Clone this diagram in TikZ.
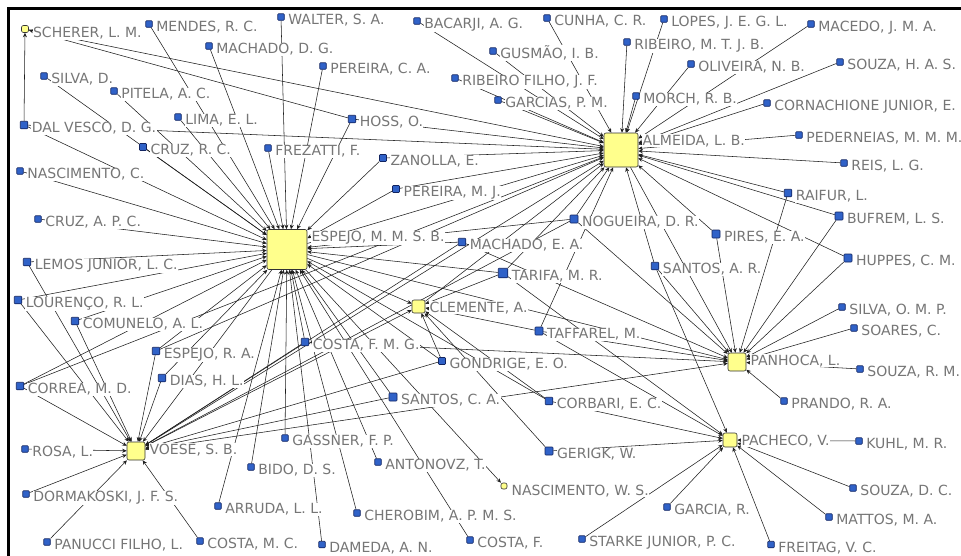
\documentclass[tikz,border=0pt]{standalone}
\usepackage{fontspec}
\setmainfont{DejaVu Sans}
\usetikzlibrary{arrows.meta,calc}
\definecolor{lblgray}{RGB}{118,118,118}
\definecolor{nodeblue}{RGB}{48,98,200}
\definecolor{nodeblueline}{RGB}{18,36,96}
\definecolor{hubyellow}{RGB}{255,255,140}
\definecolor{edgecol}{RGB}{30,30,30}
\pgfdeclarelayer{bglayer}
\pgfdeclarelayer{edgelayer}
\pgfsetlayers{bglayer,edgelayer,main}
\tikzset{
  bsq/.style={rectangle, fill=nodeblue, draw=nodeblueline, line width=0.6pt, inner sep=0pt, rounded corners=0.8pt},
  hsq/.style={rectangle, fill=hubyellow, draw=black!80, line width=0.6pt, inner sep=0pt, rounded corners=2pt},
  lbl/.style={anchor=base west, fill=white, inner sep=0.4pt, text=lblgray, font=\fontsize{14}{16}\selectfont},
  edge/.style={draw=edgecol, line width=0.55pt, -{Stealth[length=4.5pt,width=4pt]}}
}
\newcommand\bluenode[5][6.5]{%
  \node[bsq, minimum size=#1pt] (#2) at (#3,#4) {};
  \node[lbl] (#2-l) at ({#3+#1/2+3.5},{#4+7.5}) {#5};}
\newcommand\hubnode[5]{%
  \node[hsq, minimum size=#4pt] (#1) at (#2,#3) {};
  \node[lbl] (#1-l) at ({#2+#4/2+4},{#3-#4/2+12}) {#5};}
\begin{document}
\begin{tikzpicture}[x=1pt,y=-1pt]
\useasboundingbox (0,0) rectangle (961,555);
\clip (0,0) rectangle (961,555);
\begin{pgfonlayer}{bglayer}
\fill[white] (0,0) rectangle (961,555);
\end{pgfonlayer}
% hubs
\hubnode{espejo}{287}{249.5}{40}{ESPEJO, M. M. S. B.}
\hubnode{almeida}{621}{150}{34}{ALMEIDA, L. B.}
\hubnode{clemente}{418.5}{306.5}{13}{CLEMENTE, A.}
\hubnode{panhoca}{737}{362}{18}{PANHOCA, L.}
\hubnode{pacheco}{730}{440}{14}{PACHECO, V.}
\hubnode{voese}{136}{451}{18}{VOESE, S. B.}
\hubnode{scherer}{25}{29}{7}{SCHERER, L. M.}
\hubnode{nascws}{504}{486}{6}{NASCIMENTO, W. S.}
% blue nodes
\bluenode{mendes}{149}{24}{MENDES, R. C.}
\bluenode{walter}{281}{17}{WALTER, S. A.}
\bluenode{machdg}{209}{46}{MACHADO, D. G.}
\bluenode{silvad}{44}{76}{SILVA, D.}
\bluenode{pitela}{114}{91}{PITELA, A. C.}
\bluenode[7.5]{dalvesco}{24}{125}{DAL VESCO, D. G.}
\bluenode{lima}{178}{117}{LIMA, E. L.}
\bluenode[7]{cruzrc}{143}{147}{CRUZ, R. C.}
\bluenode{frezatti}{268}{148}{FREZATTI, F.}
\bluenode{nascc}{20}{171}{NASCIMENTO, C.}
\bluenode{pereiraca}{323}{66}{PEREIRA, C. A.}
\bluenode{bacarji}{417}{21}{BACARJI, A. G.}
\bluenode{cunha}{547}{18}{CUNHA, C. R.}
\bluenode{gusmao}{493}{51}{GUSMÃO, I. B.}
\bluenode{ribfilho}{455}{78}{RIBEIRO FILHO, J. F.}
\bluenode{garcias}{498}{100}{GARCIAS, P. M.}
\bluenode[7.5]{hoss}{352}{119}{HOSS, O.}
\bluenode[7]{zanolla}{383}{158}{ZANOLLA, E.}
\bluenode{ribmtjb}{627}{42}{RIBEIRO, M. T. J. B.}
\bluenode[7]{pereiramj}{396}{189}{PEREIRA, M. J.}
\bluenode{lopes}{664}{19}{LOPES, J. E. G. L.}
\bluenode{macedo}{811}{24}{MACEDO, J. M. A.}
\bluenode{oliveira}{691}{64}{OLIVEIRA, N. B.}
\bluenode{souzahas}{840}{62}{SOUZA, H. A. S.}
\bluenode{morch}{636}{96}{MORCH, R. B.}
\bluenode{cornach}{767}{103}{CORNACHIONE JUNIOR, E.}
\bluenode{pedern}{799}{135}{PEDERNEIAS, M. M. M.}
\bluenode{reis}{844}{163}{REIS, L. G.}
\bluenode{cruzapc}{38}{219}{CRUZ, A. P. C.}
\bluenode[7.5]{lemos}{27}{262}{LEMOS JUNIOR, L. C.}
\bluenode[7.5]{lourenco}{18}{300}{LOURENÇO, R. L.}
\bluenode[7.5]{comunelo}{75}{321}{COMUNELO, A. L.}
\bluenode[7.5]{espejora}{156}{351}{ESPEJO, R. A.}
\bluenode[7.5]{costafmg}{305}{342}{COSTA, F. M. G.}
\bluenode[8]{nogueira}{574}{219}{NOGUEIRA, D. R.}
\bluenode[7.5]{machea}{462}{242}{MACHADO, E. A.}
\bluenode[9.5]{tarifa}{503}{273}{TARIFA, M. R.}
\bluenode[8]{taffarel}{539}{331}{TAFFAREL, M.}
\bluenode[7]{gondrige}{442}{361}{GONDRIGE, E. O.}
\bluenode[7.5]{raifur}{788}{193}{RAIFUR, L.}
\bluenode[8]{bufrem}{839}{216}{BUFREM, L. S.}
\bluenode[8]{pires}{716}{234}{PIRES, E. A.}
\bluenode[8]{huppes}{848}{258}{HUPPES, C. M.}
\bluenode[7.5]{santosar}{655}{266}{SANTOS, A. R.}
\bluenode{silvaomp}{842}{307}{SILVA, O. M. P.}
\bluenode{soares}{854}{328}{SOARES, C.}
\bluenode{souzarm}{860}{369}{SOUZA, R. M.}
\bluenode[7.5]{correa}{20}{386}{CORREA, M. D.}
\bluenode[7.5]{dias}{162}{378}{DIAS, H. L.}
\bluenode{rosa}{25}{449}{ROSA, L.}
\bluenode{gassner}{285}{438}{GASSNER, F. P.}
\bluenode{bido}{251}{467}{BIDO, D. S.}
\bluenode{dormakoski}{26}{494}{DORMAKOSKI, J. F. S.}
\bluenode{arruda}{218}{506}{ARRUDA, L. L.}
\bluenode{panucci}{47}{542}{PANUCCI FILHO, L.}
\bluenode{costamc}{200}{541}{COSTA, M. C.}
\bluenode[8]{santosca}{393}{397}{SANTOS, C. A.}
\bluenode[7.5]{corbari}{549}{401}{CORBARI, E. C.}
\bluenode[8]{gerigk}{549}{451}{GERIGK, W.}
\bluenode{antonovz}{378}{462}{ANTONOVZ, T.}
\bluenode{cherobim}{357}{513}{CHEROBIM, A. P. M. S.}
\bluenode{costaf}{470}{540}{COSTA, F.}
\bluenode{starke}{582}{539}{STARKE JUNIOR, P. C.}
\bluenode{dameda}{322}{544.5}{DAMEDA, A. N.}
\bluenode{prando}{784}{401}{PRANDO, R. A.}
\bluenode{kuhl}{859}{441}{KUHL, M. R.}
\bluenode{souzadc}{853}{488}{SOUZA, D. C.}
\bluenode{garcia}{667}{507}{GARCIA, R.}
\bluenode{mattos}{829}{517}{MATTOS, M. A.}
\bluenode{freitag}{771}{544.5}{FREITAG, V. C.}
% edges
\begin{pgfonlayer}{edgelayer}
\foreach \s in {mendes,walter,machdg,pereiraca,silvad,pitela,lima,dalvesco,cruzrc,frezatti,hoss,nascc,zanolla,pereiramj,cruzapc,lemos,lourenco,comunelo,correa,espejora,dias,costafmg,gassner,bido,arruda,cherobim,dameda,costaf,antonovz,santosca,gondrige,corbari,tarifa,machea,nogueira}
  \draw[edge] (\s) -- (espejo);
\foreach \s in {scherer,dalvesco,hoss,zanolla,pereiramj,espejo,espejora,correa,voese,clemente,tarifa,nogueira,taffarel,santosar,pires,raifur,bufrem,huppes,reis,pedern,cornach,souzahas,oliveira,macedo,morch,lopes,ribmtjb,cunha,gusmao,bacarji,ribfilho,garcias}
  \draw[edge] (\s) -- (almeida);
\foreach \s in {espejo,voese,tarifa,taffarel,gondrige,gerigk,corbari}
  \draw[edge] (\s) -- (clemente);
\foreach \s in {lemos,lourenco,comunelo,correa,espejora,dias,espejo,costafmg,machea,nogueira,gondrige,santosca,rosa,dormakoski,panucci,costamc}
  \draw[edge] (\s) -- (voese);
\foreach \s in {voese,espejo,costafmg,machea,nogueira,taffarel,almeida,santosar,pires,raifur,bufrem,huppes,silvaomp,soares,souzarm,prando}
  \draw[edge] (\s) -- (panhoca);
\foreach \s in {santosar,tarifa,taffarel,corbari,gerigk,starke,garcia,freitag,mattos,souzadc,kuhl}
  \draw[edge] (\s) -- (pacheco);
\draw[edge] (dalvesco) -- (scherer);
\draw[edge] (hoss) -- (scherer);
\draw[edge] (espejo) -- (nascws);
\end{pgfonlayer}
% frame
\draw[line width=3pt] (8.5,560) -- (8.5,8.5) -- (970,8.5);
\end{tikzpicture}
\end{document}
